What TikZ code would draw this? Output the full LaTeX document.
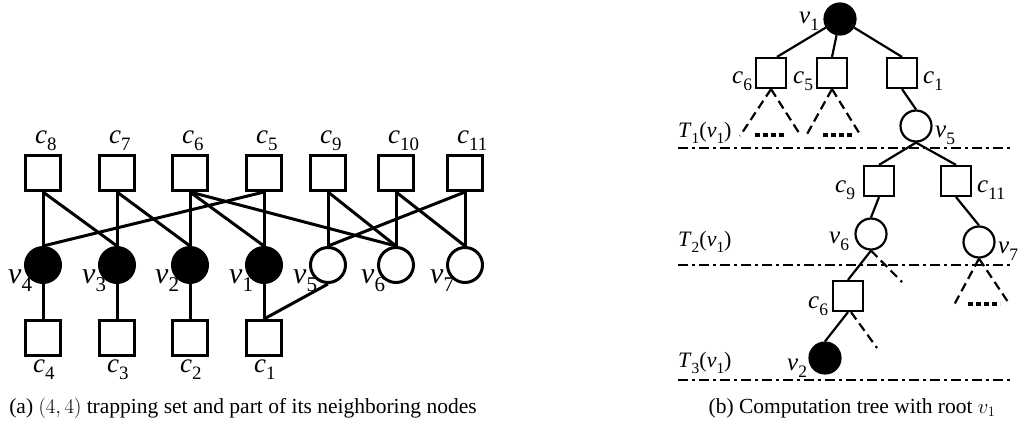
\documentclass[tikz,border=0pt]{standalone}
\usepackage[no-math]{fontspec}
\setmainfont{Liberation Serif}
\usetikzlibrary{calc}
% italic letter with an upright, lowered index
\newcommand\lb[2]{\textit{#1}\raisebox{-0.28em}{\scalebox{0.7}{#2}}}
\begin{document}
\begin{tikzpicture}[x=1pt,y=-1pt,
  % part (a): bipartite graph
  vara/.style={circle,draw,line width=3pt,minimum size=35pt,inner sep=0pt,fill=white},
  varfa/.style={vara,fill=black},
  chka/.style={rectangle,draw,line width=3pt,minimum size=35pt,inner sep=0pt,fill=white},
  edgea/.style={line width=3pt},
  clab/.style={anchor=base west,inner sep=0pt,font=\fontsize{27}{30}\selectfont},
  vlab/.style={anchor=base west,inner sep=0pt,font=\fontsize{30}{34}\selectfont},
  % part (b): computation tree
  varb/.style={circle,draw,line width=2.2pt,minimum size=31pt,inner sep=0pt,fill=white},
  varfb/.style={varb,fill=black},
  chkb/.style={rectangle,draw,line width=2.2pt,minimum size=30pt,inner sep=0pt,fill=white},
  edgeb/.style={line width=2.2pt},
  branch/.style={line width=2.2pt,dash pattern=on 9pt off 5pt},
  more/.style={line width=4pt,dash pattern=on 5pt off 3pt},
  level/.style={line width=2.8pt,dash pattern=on 10pt off 4pt on 3pt off 4pt},
  tlab/.style={anchor=base west,inner sep=0pt,font=\fontsize{25}{30}\selectfont},
  caption/.style={anchor=base,inner sep=0pt,font=\fontsize{21.5}{26}\selectfont}]
\useasboundingbox (0,0) rectangle (1019,426);

% ---------- (a) trapping set ----------
\foreach \n/\x in {8/43,7/117,6/190,5/264,9/328,10/396,11/465}{
  \node[chka] (c\n) at (\x,173) {};
  \node[clab] at (\x-8,143) {\lb{c}{\n}};
}
\foreach \n/\x in {4/43,3/117,2/190,1/264}{
  \node[varfa] (v\n) at (\x,265) {};
  \node[vlab] at (\x-35,283) {\lb{v}{\n}};
  \node[chka] (b\n) at (\x,338) {};
  \node[clab] at (\x-10,372) {\lb{c}{\n}};
}
\foreach \n/\x in {5/328,6/396,7/465}{
  \node[vara] (v\n) at (\x,265) {};
  \node[vlab] at (\x-35,283) {\lb{v}{\n}};
}
\foreach \c/\v in {c8/v4,c8/v3,c7/v3,c7/v2,c6/v2,c6/v1,c6/v6,c5/v1,c5/v4,
                   c9/v5,c9/v6,c10/v6,c10/v7,c11/v7,c11/v5}
  \draw[edgea] (\c.south) -- (\v.north);
\foreach \v/\b in {v4/b4,v3/b3,v2/b2,v1/b1,v5/b1}
  \draw[edgea] (\v.south) -- (\b.north);

\node[caption] (capa) at (243,413) {(a) $(4,4)$ trapping set and part of its neighboring nodes};

% ---------- (b) computation tree ----------
\node[varfb] (r1) at (840,19) {};
\node[tlab] at (799,23) {\lb{v}{1}};
\node[chkb] (t6) at (771,73) {};
\node[tlab] at (732,83) {\lb{c}{6}};
\node[chkb] (t5) at (832,73) {};
\node[tlab] at (793,83) {\lb{c}{5}};
\node[chkb] (t1) at (902,73) {};
\node[tlab] at (923,83) {\lb{c}{1}};
\node[varb] (u5) at (916,126) {};
\node[tlab] at (935,137) {\lb{v}{5}};
\node[chkb] (t9) at (879,181) {};
\node[tlab] at (835,192) {\lb{c}{9}};
\node[chkb] (t11) at (956,181) {};
\node[tlab] at (977,192) {\lb{c}{11}};
\node[varb] (u6) at (871,234) {};
\node[tlab] at (829,243) {\lb{v}{6}};
\node[varb] (u7) at (979,242) {};
\node[tlab] at (998,253) {\lb{v}{7}};
\node[chkb] (s6) at (848,296) {};
\node[tlab] at (808,308) {\lb{c}{6}};
\node[varfb] (u2) at (825,358) {};
\node[tlab] at (787,370) {\lb{v}{2}};

\draw[edgeb] (r1) -- ([xshift=6pt]t6.north);
\draw[edgeb] (r1) -- (t5.north);
\draw[edgeb] (r1) -- (t1.north);
\draw[edgeb] (t1.south) -- (u5.north);
\draw[edgeb] (u5.south) -- (t9.north);
\draw[edgeb] (u5.south) -- (t11.north);
\draw[edgeb] (t9.south) -- (u6.north);
\draw[edgeb] (t11.south) -- (u7.north);
\draw[edgeb] (u6.south) -- (s6.north);
\draw[edgeb] (s6.south) -- (u2.north);

% unexpanded subtrees
\coordinate (t6l) at (740,136);  \coordinate (t6r) at (801,136);
\coordinate (t5l) at (806,136);  \coordinate (t5r) at (861,136);
\coordinate (u7l) at (954,305);  \coordinate (u7r) at (1010,305);
\coordinate (u6e) at (902,282);  \coordinate (s6e) at (877,348);
\draw[branch] (t6.south) -- (t6l);  \draw[branch] (t6.south) -- (t6r);
\draw[branch] (t5.south) -- (t5l);  \draw[branch] (t5.south) -- (t5r);
\draw[branch] (u7.south) -- (u7l);  \draw[branch] (u7.south) -- (u7r);
\draw[branch] (u6.south) -- (u6e);
\draw[branch] ([xshift=3pt]s6.south) -- (s6e);
\draw[more] (755,135) -- (785,135);
\draw[more] (823,135) -- (853,135);
\draw[more] (968,304) -- (1000,304);

% depth levels
\draw[level] (678,148) -- (1010,148);
\draw[level] (678,265) -- (1010,265);
\draw[level] (678,380) -- (1010,380);
\node[tlab,font=\fontsize{22}{26}\selectfont] at (678,137) {\lb{T}{1}(\lb{v}{1})};
\node[tlab,font=\fontsize{22}{26}\selectfont] at (678,246) {\lb{T}{2}(\lb{v}{1})};
\node[tlab,font=\fontsize{22}{26}\selectfont] at (678,367) {\lb{T}{3}(\lb{v}{1})};

\node[caption] (capb) at (852,413) {(b) Computation tree with root $v_1$};
\end{tikzpicture}
\end{document}
